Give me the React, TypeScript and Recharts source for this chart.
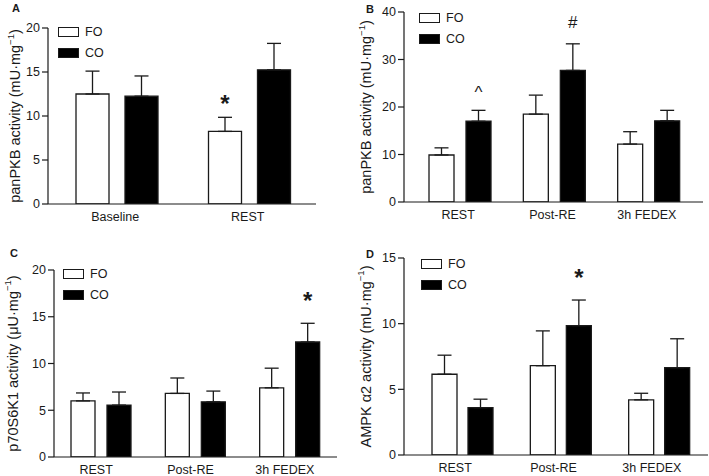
import React from "react";
import { Bar, BarChart, ErrorBar, LabelList, Legend, XAxis, YAxis } from "recharts";

const FONT = '"Liberation Sans", Arial, Helvetica, sans-serif';
const INK = "#1a1a1a";

// A: panPKB, baseline vs rest
const catsA = ["Baseline", "REST"];
const foA = [12.5, 8.25];
const foErrA = [2.6, 1.6];
const coA = [12.25, 15.25];
const coErrA = [2.3, 3.0];
const foMarkA = ["", "*"];
const coMarkA = ["", ""];

// B: panPKB over the day
const catsB = ["REST", "Post-RE", "3h FEDEX"];
const foB = [9.9, 18.5, 12.2];
const foErrB = [1.5, 4.0, 2.6];
const coB = [17.0, 27.7, 17.1];
const coErrB = [2.3, 5.6, 2.2];
const foMarkB = ["", "", ""];
const coMarkB = ["^", "#", ""];

// C: p70S6K1
const catsC = ["REST", "Post-RE", "3h FEDEX"];
const foC = [6.0, 6.8, 7.4];
const foErrC = [0.85, 1.65, 2.1];
const coC = [5.55, 5.9, 12.3];
const coErrC = [1.4, 1.15, 2.0];
const foMarkC = ["", "", ""];
const coMarkC = ["", "", "*"];

// D: AMPK a2
const catsD = ["REST", "Post-RE", "3h FEDEX"];
const foD = [6.15, 6.8, 4.2];
const foErrD = [1.45, 2.65, 0.5];
const coD = [3.6, 9.85, 6.65];
const coErrD = [0.65, 1.95, 2.2];
const foMarkD = ["", "", ""];
const coMarkD = ["", "*", ""];

const SERIES = [
  { key: "fo", name: "FO", fill: "#ffffff" },
  { key: "co", name: "CO", fill: "#000000" },
];

// how far the glyph's middle sits above its baseline (em)
const MARK_RISE: Record<string, number> = { "*": 0.56, "^": 0.52, "#": 0.35 };

function markContent(vals: number[], errs: number[], marks: string[], gap: number) {
  return (p: any) => {
    const i = p.index;
    const m = marks[i];
    if (!m || !p.viewBox) return null;
    const vb = p.viewBox;
    const unit = vb.height / vals[i];
    const capY = vb.y - errs[i] * unit;
    const star = m === "*";
    const size = star ? 24 : 17;
    return (
      <text
        x={vb.x + vb.width / 2}
        y={capY - gap + MARK_RISE[m] * size}
        textAnchor="middle"
        fontSize={size}
        fontWeight={star ? 700 : 400}
        fontFamily={FONT}
        fill={INK}
      >
        {m}
      </text>
    );
  };
}

function LegendBox() {
  return (
    <div style={{ fontFamily: FONT, fontSize: 12.5, color: INK }}>
      {SERIES.map((s) => (
        <div key={s.key} style={{ display: "flex", alignItems: "center", height: 21 }}>
          <span
            style={{
              width: 21,
              height: 10,
              boxSizing: "border-box",
              border: `1.2px solid ${INK}`,
              background: s.fill,
              display: "inline-block",
            }}
          />
          <span style={{ marginLeft: 6 }}>{s.name}</span>
        </div>
      ))}
    </div>
  );
}

type PanelProps = {
  letter: string;
  letterPos: [number, number];
  left: number;
  top: number;
  width: number;
  height: number;
  margin: { top: number; right: number; bottom: number; left: number };
  yWidth: number;
  yMax: number;
  yTicks: number[];
  title: string;
  titleGap: number;
  padding: { left: number; right: number };
  barSize: number;
  barGap: number;
  tickDx: number;
  legendPos: [number, number];
  markGap: number;
  cats: string[];
  fo: number[];
  foErr: number[];
  co: number[];
  coErr: number[];
  foMark: string[];
  coMark: string[];
};

function Panel(p: PanelProps) {
  const rows = p.cats.map((cat, i) => ({
    cat,
    fo: p.fo[i],
    co: p.co[i],
    foErr: [0, p.foErr[i]],
    coErr: [0, p.coErr[i]],
    foMark: p.foMark[i],
    coMark: p.coMark[i],
  }));

  const yTitle = (lp: any) => {
    const vb = lp.viewBox;
    const cx = vb.x + vb.width - p.titleGap;
    const cy = vb.y + vb.height / 2;
    return (
      <text
        x={cx}
        y={cy}
        transform={`rotate(-90 ${cx} ${cy})`}
        textAnchor="middle"
        dominantBaseline="central"
        fontFamily={FONT}
        fontSize={14.5}
        fill={INK}
      >
        {p.title}
        <tspan fontSize={9.5} dy={-5.5}>
          −1
        </tspan>
        <tspan dy={5.5}>)</tspan>
      </text>
    );
  };

  return (
    <div style={{ position: "absolute", left: p.left, top: p.top, width: p.width, height: p.height }}>
      <div
        style={{
          position: "absolute",
          left: p.letterPos[0],
          top: p.letterPos[1],
          fontFamily: FONT,
          fontWeight: 700,
          fontSize: 11,
          lineHeight: "12px",
          color: INK,
          zIndex: 2,
        }}
      >
        {p.letter}
      </div>
      <BarChart
        width={p.width}
        height={p.height}
        data={rows}
        margin={p.margin}
        barGap={p.barGap}
        barSize={p.barSize}
      >
        <XAxis
          dataKey="cat"
          height={10}
          padding={p.padding}
          tickLine={false}
          axisLine={{ stroke: INK, strokeWidth: 1.2 }}
          tick={{ fill: INK, fontSize: 12.5, fontFamily: FONT, dx: p.tickDx }}
          interval={0}
        />
        <YAxis
          width={p.yWidth}
          domain={[0, p.yMax]}
          ticks={p.yTicks}
          allowDataOverflow
          tickSize={6}
          tickMargin={2}
          axisLine={{ stroke: INK, strokeWidth: 1.2 }}
          tickLine={{ stroke: INK, strokeWidth: 1.2 }}
          tick={{ fill: INK, fontSize: 12.5, fontFamily: FONT }}
          label={yTitle}
        />
        <Legend
          layout="vertical"
          align="center"
          verticalAlign="middle"
          content={() => <LegendBox />}
          wrapperStyle={{ left: p.legendPos[0], top: p.legendPos[1] - 5.5, width: 80, height: 42 }}
        />
        <Bar
          dataKey="fo"
          name="FO"
          fill="#ffffff"
          stroke={INK}
          strokeWidth={1.3}
          isAnimationActive={false}
        >
          <ErrorBar dataKey="foErr" direction="y" width={7} stroke={INK} strokeWidth={1.3} />
          <LabelList dataKey="foMark" content={markContent(p.fo, p.foErr, p.foMark, p.markGap)} />
        </Bar>
        <Bar
          dataKey="co"
          name="CO"
          fill="#000000"
          stroke={INK}
          strokeWidth={1.3}
          isAnimationActive={false}
        >
          <ErrorBar dataKey="coErr" direction="y" width={7} stroke={INK} strokeWidth={1.3} />
          <LabelList dataKey="coMark" content={markContent(p.co, p.coErr, p.coMark, p.markGap)} />
        </Bar>
      </BarChart>
    </div>
  );
}

export default function App() {
  return (
    <div style={{ position: "absolute", left: 0, top: 0, width: 709, height: 476, background: "#fff" }}>
      <Panel
        letter="A"
        letterPos={[12, 2]}
        left={0}
        top={0}
        width={340}
        height={238}
        margin={{ top: 28, right: 24, bottom: 24, left: 0 }}
        yWidth={48}
        yMax={20}
        yTicks={[0, 5, 10, 15, 20]}
        title="panPKB activity (mU·mg"
        titleGap={33}
        padding={{ left: 3, right: 0 }}
        barSize={33}
        barGap={16}
        tickDx={-2}
        legendPos={[58, 27]}
        markGap={19}
        cats={catsA}
        fo={foA}
        foErr={foErrA}
        co={coA}
        coErr={coErrA}
        foMark={foMarkA}
        coMark={coMarkA}
      />
      <Panel
        letter="B"
        letterPos={[11, 2.5]}
        left={355}
        top={0}
        width={354}
        height={238}
        margin={{ top: 12, right: 6, bottom: 26, left: 0 }}
        yWidth={49}
        yMax={40}
        yTicks={[0, 10, 20, 30, 40]}
        title="panPKB activity (mU·mg"
        titleGap={38}
        padding={{ left: 9, right: 7 }}
        barSize={25}
        barGap={12}
        tickDx={-2}
        legendPos={[64, 13]}
        markGap={21.5}
        cats={catsB}
        fo={foB}
        foErr={foErrB}
        co={coB}
        coErr={coErrB}
        foMark={foMarkB}
        coMark={coMarkB}
      />
      <Panel
        letter="C"
        letterPos={[10, 9]}
        left={0}
        top={238}
        width={354}
        height={238}
        margin={{ top: 32, right: 17, bottom: 9, left: 0 }}
        yWidth={54}
        yMax={20}
        yTicks={[0, 5, 10, 15, 20]}
        title="p70S6K1 activity (μU·mg"
        titleGap={41.5}
        padding={{ left: 0, right: 0 }}
        barSize={24}
        barGap={12}
        tickDx={-5}
        legendPos={[63, 31]}
        markGap={28}
        cats={catsC}
        fo={foC}
        foErr={foErrC}
        co={coC}
        coErr={coErrC}
        foMark={foMarkC}
        coMark={coMarkC}
      />
      <Panel
        letter="D"
        letterPos={[11, 10]}
        left={355}
        top={238}
        width={354}
        height={238}
        margin={{ top: 20, right: 1, bottom: 11, left: 0 }}
        yWidth={49}
        yMax={15}
        yTicks={[0, 5, 10, 15]}
        title="AMPK α2 activity (mU·mg"
        titleGap={38.5}
        padding={{ left: 9, right: 0 }}
        barSize={25}
        barGap={11}
        tickDx={-7}
        legendPos={[66, 21]}
        markGap={27}
        cats={catsD}
        fo={foD}
        foErr={foErrD}
        co={coD}
        coErr={coErrD}
        foMark={foMarkD}
        coMark={coMarkD}
      />
    </div>
  );
}
